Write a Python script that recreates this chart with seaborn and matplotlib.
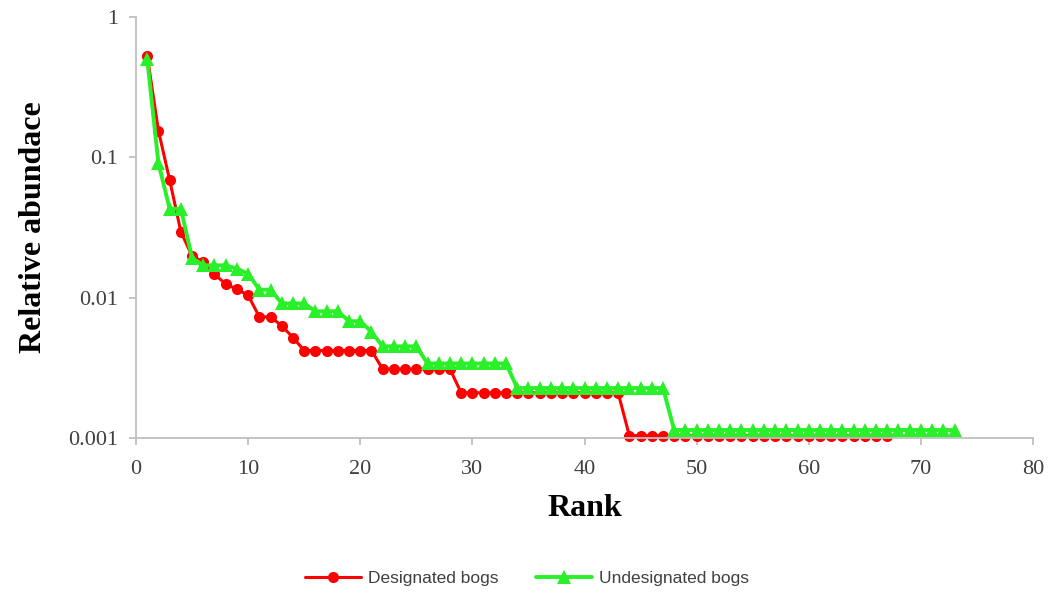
import matplotlib
matplotlib.use("Agg")
import matplotlib.pyplot as plt
import matplotlib.ticker as mticker
import seaborn as sns
import pandas as pd

# ---- data ----
designated = [0.53, 0.155, 0.069, 0.0295, 0.0198, 0.018, 0.0147, 0.0125, 0.0115, 0.0104,
              0.0073, 0.0073, 0.0063, 0.0052,
              0.0042, 0.0042, 0.0042, 0.0042, 0.0042, 0.0042, 0.0042,
              0.0031, 0.0031, 0.0031, 0.0031, 0.0031, 0.0031, 0.0031,
              0.0021, 0.0021, 0.0021, 0.0021, 0.0021, 0.0021, 0.0021, 0.0021,
              0.0021, 0.0021, 0.0021, 0.0021, 0.0021, 0.0021, 0.0021,
              0.00104, 0.00104, 0.00104, 0.00104, 0.00104, 0.00104, 0.00104, 0.00104,
              0.00104, 0.00104, 0.00104, 0.00104, 0.00104, 0.00104, 0.00104, 0.00104,
              0.00104, 0.00104, 0.00104, 0.00104, 0.00104, 0.00104, 0.00104, 0.00104]
undesignated = [0.50, 0.091, 0.043, 0.043, 0.0192, 0.017, 0.017, 0.017, 0.0161, 0.0148,
                0.0114, 0.0114, 0.0091, 0.0091, 0.0091, 0.0080, 0.0080, 0.0080,
                0.0068, 0.0068, 0.0057, 0.0045, 0.0045, 0.0045, 0.0045,
                0.0034, 0.0034, 0.0034, 0.0034, 0.0034, 0.0034, 0.0034, 0.0034,
                0.00227, 0.00227, 0.00227, 0.00227, 0.00227, 0.00227, 0.00227,
                0.00227, 0.00227, 0.00227, 0.00227, 0.00227, 0.00227, 0.00227,
                0.00114, 0.00114, 0.00114, 0.00114, 0.00114, 0.00114, 0.00114, 0.00114,
                0.00114, 0.00114, 0.00114, 0.00114, 0.00114, 0.00114, 0.00114, 0.00114,
                0.00114, 0.00114, 0.00114, 0.00114, 0.00114, 0.00114, 0.00114, 0.00114,
                0.00114, 0.00114]
series_names = ["Designated bogs", "Undesignated bogs"]
x_ticks = [0, 10, 20, 30, 40, 50, 60, 70, 80]
y_ticks = [0.001, 0.01, 0.1, 1]
y_tick_labels = ["0.001", "0.01", "0.1", "1"]

df_d = pd.DataFrame({"Rank": range(1, len(designated) + 1), "abund": designated})
df_u = pd.DataFrame({"Rank": range(1, len(undesignated) + 1), "abund": undesignated})

sns.set_theme(style="white")
plt.rcParams["font.family"] = ["Liberation Serif", "DejaVu Serif"]

fig = plt.figure(figsize=(10.54, 5.96), dpi=100)
ax = fig.add_axes([136 / 1054, 1 - 438 / 596, (1033 - 136) / 1054, (438 - 17) / 596])

red = "#FF0000"
green = "#2AF02A"
sns.lineplot(data=df_d, x="Rank", y="abund", ax=ax, color=red, marker="o",
             markersize=8, markeredgewidth=0, linewidth=2.2, label=series_names[0],
             clip_on=False)
sns.lineplot(data=df_u, x="Rank", y="abund", ax=ax, color=green, marker="^",
             markersize=9.5, markeredgewidth=0, linewidth=2.8, label=series_names[1],
             clip_on=False)

ax.set_yscale("log")
ax.set_ylim(0.001, 1)
ax.set_xlim(0, 80)
ax.set_xticks(x_ticks)
ax.set_yticks(y_ticks)
ax.set_yticklabels(y_tick_labels)
ax.yaxis.set_minor_locator(mticker.NullLocator())

for s in ["top", "right"]:
    ax.spines[s].set_visible(False)
for s in ["left", "bottom"]:
    ax.spines[s].set_color("#BFBFBF")
    ax.spines[s].set_linewidth(1.3)
ax.tick_params(axis="both", which="major", direction="out", length=5, width=1.3,
               color="#BFBFBF", labelsize=16, labelcolor="#404040",
               bottom=True, left=True)
ax.tick_params(axis="x", pad=11)
ax.tick_params(axis="y", pad=8)
ax.grid(False)

ax.set_xlabel("Rank", fontsize=23, fontweight="bold", color="black", labelpad=11)
ax.set_ylabel("Relative abundace", fontsize=23, fontweight="bold", color="black", labelpad=14)

ax.legend_.remove()
handles, labels = ax.get_legend_handles_labels()
leg = fig.legend(handles, labels, loc="center", bbox_to_anchor=(527 / 1054, 1 - 578 / 596),
                 ncol=2, frameon=False, handlelength=3.2, handletextpad=0.4,
                 columnspacing=2.2,
                 prop={"family": ["Liberation Sans", "DejaVu Sans"], "size": 12.5})
for t in leg.get_texts():
    t.set_color("#404040")

fig.savefig("out.png", dpi=100)
